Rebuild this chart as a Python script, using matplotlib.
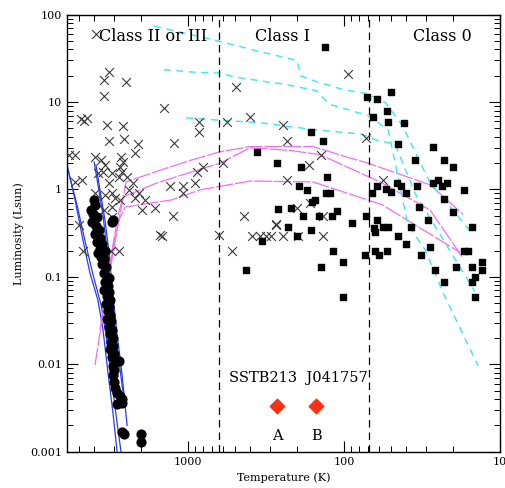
import numpy as np
import matplotlib
matplotlib.use("Agg")
import matplotlib.pyplot as plt
from matplotlib.ticker import FixedLocator, FixedFormatter, NullFormatter, LogLocator

plt.rcParams['font.family'] = ['DejaVu Serif']

# --- data (temperature in K, luminosity in Lsun) ---
circ_T = [4000, 3950, 4190, 4060, 3830, 4130, 3890, 3720, 3950, 3670, 3830, 3560, 3030, 3070, 3670, 3410, 3780,
          3610, 3460, 3560, 3360, 3460, 3310, 3210, 3410, 3260, 3460, 3210, 3310, 3160,
          3360, 3210, 3260, 3160, 3310, 3120, 3210, 3070, 3160, 3030, 3120, 3030, 3160, 2980, 3070, 2770,
          3030, 2980, 3030, 2980, 2940, 2850, 2730, 2650, 2850, 2650,
          2650, 2570, 2000, 2000]
circ_L = [0.76, 0.66, 0.58, 0.52, 0.49, 0.43, 0.38, 0.34, 0.31, 0.28, 0.25, 0.24, 0.45, 0.42, 0.21, 0.20, 0.19,
          0.17, 0.16, 0.14, 0.13, 0.11, 0.10, 0.097, 0.087, 0.079, 0.071, 0.067, 0.060, 0.054,
          0.049, 0.045, 0.041, 0.037, 0.033, 0.031, 0.027, 0.025, 0.022, 0.020, 0.018, 0.016, 0.015, 0.013, 0.012, 0.011,
          0.0096, 0.0086, 0.0075, 0.0063, 0.0054, 0.0047, 0.0043, 0.0040, 0.0035, 0.0036,
          0.0017, 0.0016, 0.0016, 0.0013]

cross_T = [3890, 3210, 3460, 3460, 2500, 4850, 4440, 4640, 3310, 2610, 3210, 2570, 2090, 2190, 5790, 5300,
           3950, 3610, 3410, 3510, 3780, 2690, 2610, 2730, 2650, 2460, 2770, 3070, 3210, 3070, 3410, 2940,
           2730, 3070, 3460, 3070, 5300, 4780, 2250, 2060, 1890, 1970, 1630, 2190, 2390, 1510, 3950,
           1420, 850, 850, 1230, 800, 880, 600, 900, 1080, 1300, 1080, 1250, 1470, 630, 440, 520, 390, 345,
           316, 294, 273, 560, 490, 400, 140, 168, 232, 200, 165, 136, 273, 246, 197, 136, 56, 94, 246, 232,
           72, 4710, 3120, 2770, 5000]
cross_L = [60, 22, 18, 11.7, 17, 6.4, 6.6, 6.1, 5.5, 5.3, 3.6, 3.8, 3.3, 2.6, 2.5, 2.5,
           2.35, 2.2, 1.9, 1.6, 1.55, 2.35, 2.06, 1.8, 1.6, 1.4, 1.4, 1.55, 1.19, 0.91, 0.87, 0.80,
           0.76, 0.63, 0.58, 0.49, 1.22, 1.28, 1.19, 0.91, 0.76, 0.58, 0.61, 0.80, 0.99, 0.30, 0.91,
           8.6, 5.9, 4.6, 3.4, 1.81, 1.59, 2.0, 1.19, 1.10, 1.10, 0.91, 0.50, 0.29, 0.30, 0.50, 0.20, 0.29, 0.29,
           0.29, 0.29, 0.39, 5.9, 14.9, 6.8, 2.48, 1.91, 1.28, 0.61, 0.70, 0.50, 0.40, 0.29, 0.29, 0.29, 1.28, 21, 5.5, 3.6,
           3.9, 0.20, 0.20, 0.20, 0.39]

sq_T = [132, 71, 61, 50, 53, 65, 52, 41, 163, 136, 27, 45, 361, 269, 189, 129, 35, 23, 20, 194, 173, 130, 123,
        61, 66, 54, 50, 46, 43, 40, 34, 27, 25, 23.5, 22, 23, 17, 265, 219, 183, 160, 153, 145, 119, 111, 89,
        72, 61, 64, 63, 56, 52, 335, 229, 200, 163, 45, 40, 37, 33, 29, 20, 15, 28, 17, 16, 118, 63, 53,
        140, 101, 101, 73, 60, 32, 26, 23, 19, 15, 13, 13, 14.5, 15, 14.5, 425]
sq_L = [43, 11.4, 10.8, 13.1, 7.9, 6.8, 5.9, 5.8, 4.6, 3.6, 3.1, 3.3, 2.7, 2.0, 1.8, 1.4, 2.2, 2.2, 1.8, 1.1, 0.99, 0.91, 0.91,
        1.1, 0.91, 1.0, 0.94, 1.2, 1.1, 0.91, 1.1, 1.2, 1.3, 1.1, 1.2, 0.78, 0.99, 0.60, 0.61, 0.50, 0.72, 0.76, 0.50, 0.50, 0.57, 0.41,
        0.50, 0.45, 0.36, 0.33, 0.37, 0.37, 0.26, 0.37, 0.29, 0.34, 0.29, 0.24, 0.37, 0.63, 0.45, 0.55, 0.37, 0.22, 0.20, 0.20, 0.20, 0.20, 0.20,
        0.13, 0.15, 0.059, 0.18, 0.18, 0.18, 0.12, 0.087, 0.13, 0.13, 0.15, 0.12, 0.10, 0.087, 0.059, 0.12]

# SSTB213 J041757 A and B
src_T = [269, 151]
src_L = [0.0033, 0.0033]
src_names = ["A", "B"]

# blue isochrone-like lines
blue_lines = [
    ([6000, 5300, 4710, 4250, 3780, 3510, 3260, 3030, 2850], [2.0, 0.76, 0.26, 0.11, 0.054, 0.025, 0.008, 0.0028, 0.001]),
    ([5880, 5150, 4510, 4060, 3610, 3360, 3120, 2890, 2690], [1.67, 0.665, 0.23, 0.105, 0.048, 0.022, 0.0075, 0.0026, 0.001]),
    ([4000, 3780, 3510, 3310, 3120, 2940, 2770, 2650, 2530], [2.06, 1.13, 0.51, 0.21, 0.071, 0.025, 0.011, 0.0058, 0.0033]),
    ([3890, 3670, 3410, 3210, 3030, 2850, 2690, 2570, 2460], [1.91, 0.99, 0.45, 0.19, 0.062, 0.022, 0.0098, 0.0045, 0.002]),
]

# magenta tracks
pink_lines = [
    ([3950, 3160, 2810, 2500, 1450, 930, 624, 400, 158, 96, 70, 49, 28, 17.3],
     [0.0098, 0.12, 0.39, 1.22, 1.7, 2.2, 2.7, 3.1, 3.1, 2.35, 2.0, 1.6, 1.13, 0.52]),
    ([3670, 3070, 2810, 2610, 1580, 840, 624, 400, 222, 142, 57, 28, 17.3],
     [0.025, 0.20, 0.51, 0.82, 1.19, 1.7, 2.0, 3.0, 2.8, 2.5, 1.19, 0.58, 0.165]),
    ([3400, 2980, 2770, 2530, 1270, 840, 400, 158, 57, 18],
     [0.048, 0.26, 0.45, 0.63, 0.76, 0.99, 1.25, 1.22, 0.67, 0.19]),
]

# cyan dashed tracks
cyan_lines = [
    ([1650, 670, 310, 200, 190, 155, 100, 71, 54, 42, 28, 19.5, 15.5],
     [74, 51, 36, 30, 20, 17.5, 13.8, 12.5, 9.8, 5.3, 1.18, 0.55, 0.33]),
    ([1430, 920, 620, 510, 310, 240, 150, 125, 70, 52, 39, 30, 23, 13.8],
     [23.5, 22, 21.5, 19.5, 17, 16, 13.5, 9.5, 7.0, 4.8, 0.4, 0.2, 0.064, 0.0096]),
    ([1030, 620, 345, 150, 77, 63, 47, 35, 14.5],
     [6.6, 6.2, 5.8, 4.8, 4.3, 3.7, 3.3, 0.9, 0.068]),
]

class_bounds = [630, 69]

# --- plot ---
fig = plt.figure(figsize=(5.05, 4.88), dpi=100)
ax = fig.add_axes([0.132, 0.0744, 0.858, 0.8955])

for T, L in blue_lines:
    ax.plot(T, L, color='#2b3cf0', lw=0.9)
for T, L in pink_lines:
    ax.plot(T, L, color='#f070f0', lw=0.9, ls=(0, (14, 1.5)))
for T, L in cyan_lines:
    ax.plot(T, L, color='#3ae8f0', lw=1.0, ls=(0, (5, 4)))

ax.scatter(cross_T, cross_L, marker='x', s=40, color='#3a3a3a', linewidths=0.8, zorder=3)
ax.scatter(sq_T, sq_L, marker='s', s=24, color='black', zorder=4)
ax.scatter(circ_T, circ_L, marker='o', s=40, color='black', zorder=4)
ax.scatter(src_T, src_L, marker='D', s=55, color='#f53214', zorder=5)

for b in class_bounds:
    ax.axvline(b, color='black', lw=0.9, ls=(0, (6, 4)))

ax.set_xscale('log')
ax.set_yscale('log')
ax.set_xlim(6000, 10)
ax.set_ylim(0.001, 100)

ax.xaxis.set_major_locator(FixedLocator([1000, 100, 10]))
ax.xaxis.set_major_formatter(FixedFormatter(['1000', '100', '10']))
ax.xaxis.set_minor_locator(LogLocator(base=10, subs=np.arange(2, 10), numticks=20))
ax.xaxis.set_minor_formatter(NullFormatter())
ax.yaxis.set_major_locator(FixedLocator([0.001, 0.01, 0.1, 1, 10, 100]))
ax.yaxis.set_major_formatter(FixedFormatter(['0.001', '0.01', '0.1', '1', '10', '100']))
ax.yaxis.set_minor_locator(LogLocator(base=10, subs=np.arange(2, 10), numticks=20))
ax.yaxis.set_minor_formatter(NullFormatter())

ax.tick_params(which='both', direction='in', top=True, right=True, labelsize=8)
ax.tick_params(which='major', length=8, width=0.8)
ax.tick_params(which='minor', length=4.5, width=0.7)
for s in ax.spines.values():
    s.set_linewidth(1.0)

ax.set_xlabel('Temperature (K)', fontsize=8)
ax.set_ylabel('Luminosity (Lsun)', fontsize=8)

ax.text(0.199, 0.951, 'Class II or III', transform=ax.transAxes, ha='center', va='center', fontsize=11.5)
ax.text(0.498, 0.951, 'Class I', transform=ax.transAxes, ha='center', va='center', fontsize=11.5)
ax.text(0.866, 0.951, 'Class 0', transform=ax.transAxes, ha='center', va='center', fontsize=11.5)
ax.text(0.535, 0.168, 'SSTB213  J041757', transform=ax.transAxes, ha='center', va='center', fontsize=10.5)
for T, L, n in zip(src_T, src_L, src_names):
    ax.annotate(n, (T, L), xytext=(0, -21), textcoords='offset points', ha='center', va='center', fontsize=10.5)

fig.savefig('out.png', dpi=100)
